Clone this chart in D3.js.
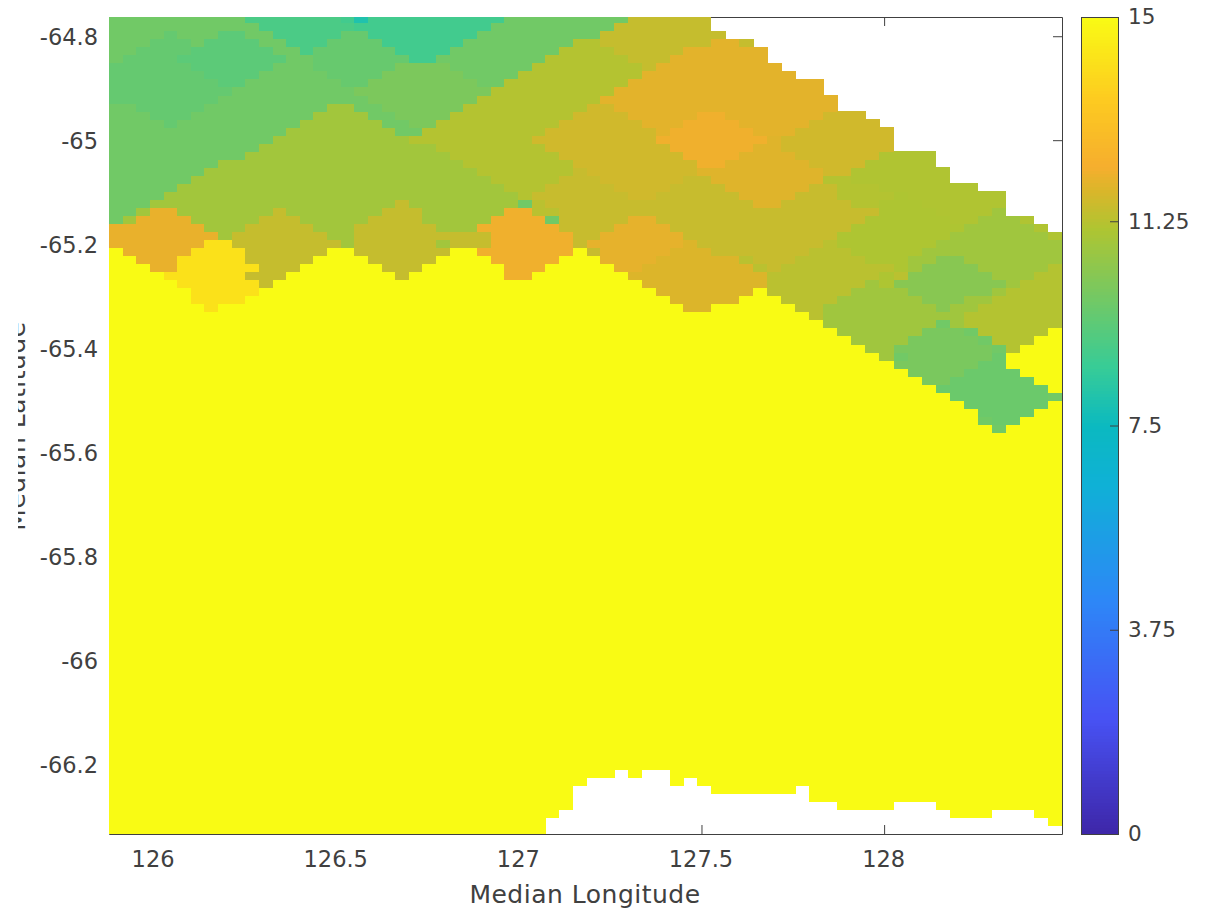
<!DOCTYPE html>
<html><head><meta charset="utf-8">
<script src="https://cdnjs.cloudflare.com/ajax/libs/d3/7.8.5/d3.min.js"></script>
<style>html,body{margin:0;padding:0;background:#fff}svg{display:block}text{font-family:"DejaVu Sans",sans-serif;fill:#404040}</style>
</head><body><div id="chart"></div>
<script>
const xLabel = "Median Longitude";
const yLabel = "Median Latitude";
const xTicks = [126, 126.5, 127, 127.5, 128];
const yTicks = [-64.8, -65, -65.2, -65.4, -65.6, -65.8, -66, -66.2];
const cbTicks = [0, 3.75, 7.5, 11.25, 15];
const lonLimit = [125.878, 128.487];
const latLimit = [-66.335, -64.763];
const lonBreaks = [125.878, 127.072, 127.526, 128.487];
const lonCounts = [32, 12, 25];
const latStep = 0.015455;
const saturated = 15;
const baseValue = 9.8;
const colorStops = [0, 2.14, 4.29, 6.43, 7.5, 8.57, 11.1, 11.85, 12.25, 13.5, 15];
const colorRamp = ["#3e26a8","#4752f4","#2d87f7","#0fb1d6","#0bb9c0","#37cc97","#aec532","#dcb52a","#f6ae2e","#fdcb20","#f9fb14"];

// footprints in paint order: centre lon / lat, half extents, median value
const patchLon = [126.040,126.730,126.209,126.433,126.552,126.735,126.571,126.784,126.291,126.524,127.257,127.469,128.422,128.044,127.858,127.770,128.318,128.003,127.934,128.181,128.482,128.162,128.099,128.318,127.551,127.181,127.359,127.332,127.688,127.551,127.743,127.784,127.688,127.934,127.874,127.529,127.346,127.359,127.482,127.551,126.026,126.026,125.878,126.373,126.341,126.675,126.675,127.017,127.003,126.168,126.176,126.313,126.979,126.866,127.058,127.940,127.852,128.003,128.230,128.203];
const patchLat = [-64.883,-64.902,-64.845,-64.730,-64.841,-64.739,-64.749,-65.104,-65.151,-65.056,-64.992,-64.806,-65.075,-65.209,-65.084,-65.267,-65.238,-65.334,-65.391,-65.272,-65.349,-65.407,-65.458,-65.483,-65.171,-65.190,-65.113,-64.998,-65.136,-64.921,-64.864,-64.950,-65.059,-64.969,-65.004,-64.998,-65.205,-65.247,-65.267,-65.286,-65.232,-65.186,-65.190,-65.219,-65.194,-65.224,-65.184,-65.219,-65.190,-65.295,-65.257,-65.267,-65.251,-65.194,-65.134,-65.109,-65.347,-65.267,-65.318,-65.343];
const patchDLon = [.238,.192,.151,.288,.137,.285,.066,.246,.372,.342,.556,.274,.548,.274,.082,.301,.288,.192,.137,.151,.274,.137,.123,.173,.164,.164,.356,.301,.301,.323,.192,.137,.192,.137,.164,.151,.164,.164,.197,.164,.164,.151,.082,.192,.142,.164,.142,.137,.156,.151,.151,.060,.060,.077,.044,.077,.049,.050,.050,.040];
const patchDLat = [.096,.077,.058,.105,.063,.115,.027,.105,.144,.134,.215,.105,.221,.115,.035,.105,.111,.077,.058,.061,.111,.054,.054,.071,.067,.058,.134,.119,.119,.125,.105,.058,.077,.058,.067,.061,.067,.077,.077,.058,.067,.063,.038,.077,.069,.069,.071,.054,.069,.071,.071,.027,.027,.023,.019,.031,.019,.020,.020,.020];
const patchVal = [9.55,10.04,9.35,9.0,9.6,8.8,8.0,10.85,10.85,10.85,11.2,11.48,11.13,11.1,11.2,11.3,10.8,10.8,10.8,10.3,11.2,10.0,10.0,9.68,11.5,11.5,11.51,11.65,11.5,11.96,11.96,11.96,11.9,11.65,11.65,12.15,12.0,12.0,11.85,11.85,12.05,12.05,12.05,11.48,11.48,11.48,11.48,12.15,12.15,14.2,14.2,11.48,12.15,11.48,11.3,11.2,10.8,11.1,10.8,10.8];

// per column, in grid rows counted up from the south edge
const dataTop = [102,102,102,102,102,102,102,102,102,102,102,102,102,102,102,102,102,102,102,102,102,102,102,102,102,102,102,102,102,102,102,102,102,102,102,102,102,102,102,102,102,102,102,102,100,99,99,98,96,95,94,94,92,90,90,89,88,85,85,85,83,81,81,80,80,77,77,76,75];
const dataBottom = [0,0,0,0,0,0,0,0,0,0,0,0,0,0,0,0,0,0,0,0,0,0,0,0,0,0,0,0,0,0,0,0,2,3,6,7,7,8,7,8,8,6,7,6,5,5,5,5,5,5,6,4,4,3,3,3,3,4,4,4,3,2,2,2,3,3,3,2,1];
const saturatedTop = [73,72,71,70,69,68,66,65,66,66,67,68,69,70,71,72,73,73,72,71,70,69,70,71,72,73,73,72,71,69,69,70,71,72,73,72,71,70,69,68,67,66,65,65,66,66,67,68,67,66,65,64,63,62,61,60,59,58,57,56,55,54,53,51,50,51,52,53,54];
const shelfCols = [65,66,67,68];
const shelfLow = [58,57,56,55];
const shelfHigh = [60,61,62,63];

const W = 1213, H = 912;
const m = {l:109, r:1062, t:17, b:834};
const cb = {l:1081, r:1119};
const svg = d3.select("#chart").append("svg").attr("width",W).attr("height",H);

const x = d3.scaleLinear().domain(lonLimit).range([m.l,m.r]);
const y = d3.scaleLinear().domain(latLimit).range([m.b,m.t]);
const c = d3.scaleLinear().domain(colorStops).range(colorRamp).interpolate(d3.interpolateRgb).clamp(true);
const cLimit = [colorStops[0], colorStops[colorStops.length-1]];
const cy = d3.scaleLinear().domain(cLimit).range([m.b,m.t]);

// axes sit beneath the image, as in the original figure
const styleAxis = g => { g.selectAll("path,line").attr("stroke","#404040").attr("stroke-width",1); g.selectAll("text").attr("font-size",22.5).style("font-family",'"DejaVu Sans",sans-serif'); };
const xAxisG = svg.append("g").attr("transform",`translate(0,${m.b})`).call(d3.axisBottom(x).tickValues(xTicks).tickFormat(String).tickSize(-9).tickSizeOuter(0).tickPadding(17)).call(styleAxis);
xAxisG.selectAll("text").attr("dx",-1);
svg.append("g").attr("transform",`translate(0,${m.t})`).call(d3.axisTop(x).tickValues(xTicks).tickFormat("").tickSize(-9).tickSizeOuter(0)).call(styleAxis);
const yAxisG = svg.append("g").attr("transform",`translate(${m.l},0)`).call(d3.axisLeft(y).tickValues(yTicks).tickFormat(String).tickSize(-9).tickSizeOuter(0).tickPadding(11)).call(styleAxis);
yAxisG.selectAll("text").attr("dy","0.37em");
svg.append("g").attr("transform",`translate(${m.r},0)`).call(d3.axisRight(y).tickValues(yTicks).tickFormat("").tickSize(-9).tickSizeOuter(0)).call(styleAxis);

// grid columns
const colEdges = [];
lonCounts.forEach((n,s)=>{ d3.range(n).forEach(k=>colEdges.push(lonBreaks[s]+(lonBreaks[s+1]-lonBreaks[s])*k/n)); });
colEdges.push(lonBreaks[lonBreaks.length-1]);

function footprintValue(lon,lat){
  let v = baseValue;
  patchVal.forEach((pv,i)=>{
    if (Math.abs(lon-patchLon[i])/patchDLon[i]+Math.abs(lat-patchLat[i])/patchDLat[i] <= 1) v = pv;
  });
  return v;
}
const cells = [];
dataTop.forEach((top,col)=>{
  const sh = shelfCols.indexOf(col);
  d3.range(dataBottom[col],top).forEach(row=>{
    const lon0 = colEdges[col], lon1 = colEdges[col+1];
    const lat0 = latLimit[0]+row*latStep, lat1 = lat0+latStep;
    let v;
    if (row<saturatedTop[col] || (sh>=0 && row>=shelfLow[sh] && row<shelfHigh[sh])) v = saturated;
    else v = footprintValue((lon0+lon1)/2,(lat0+lat1)/2);
    cells.push({lon0,lon1,lat0,lat1,v});
  });
});
svg.append("clipPath").attr("id","plotClip").append("rect").attr("x",m.l).attr("y",m.t).attr("width",m.r-m.l).attr("height",m.b-m.t);
svg.append("g").attr("clip-path","url(#plotClip)").attr("shape-rendering","crispEdges")
  .selectAll("rect").data(cells).join("rect")
  .attr("x",d=>x(d.lon0)).attr("width",d=>x(d.lon1)-x(d.lon0)+0.5)
  .attr("y",d=>y(d.lat1)).attr("height",d=>y(d.lat0)-y(d.lat1)+0.5)
  .attr("fill",d=>c(d.v));

// labels
svg.append("text").attr("x",585).attr("y",903).attr("text-anchor","middle").attr("font-size",25).attr("letter-spacing",0.5).text(xLabel);
svg.append("clipPath").attr("id","labelClip").append("rect").attr("x",18).attr("y",0).attr("width",40).attr("height",H);
svg.append("g").attr("clip-path","url(#labelClip)").append("text")
  .attr("transform","translate(25,426) rotate(-90)").attr("text-anchor","middle").attr("font-size",25).attr("letter-spacing",0.5).text(yLabel);

// colour bar
const levels = d3.range(0,256).map(i=>cLimit[0]+(cLimit[1]-cLimit[0])*i/256);
const lvlH = (cLimit[1]-cLimit[0])/256;
svg.append("g").attr("shape-rendering","crispEdges").selectAll("rect").data(levels).join("rect")
  .attr("x",cb.l).attr("width",cb.r-cb.l)
  .attr("y",d=>cy(d+lvlH)).attr("height",d=>cy(d)-cy(d+lvlH)+0.5)
  .attr("fill",d=>c(d+lvlH/2));
svg.append("rect").attr("x",cb.l+.5).attr("y",m.t+.5).attr("width",cb.r-cb.l-1).attr("height",m.b-m.t)
  .attr("fill","none").attr("stroke","#404040");
const cbG = svg.append("g").attr("transform",`translate(${cb.r},0)`)
  .call(d3.axisRight(cy).tickValues(cbTicks).tickFormat(String).tickSize(-9).tickSizeOuter(0).tickPadding(18));
cbG.select("path.domain").remove();
cbG.selectAll("line").attr("stroke","#404040");
cbG.selectAll("text").attr("font-size",21.5).attr("x",9).style("font-family",'"DejaVu Sans",sans-serif');
</script></body></html>
